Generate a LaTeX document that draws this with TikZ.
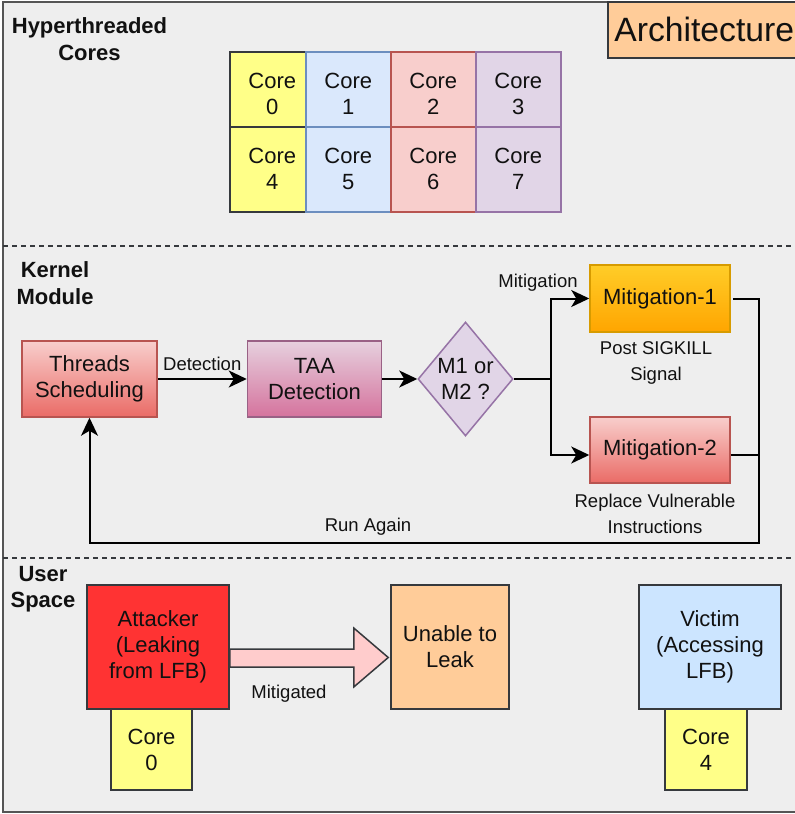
\documentclass[tikz,border=0pt]{standalone}
\usepackage{fontspec}
\setmainfont{Liberation Sans}
\usetikzlibrary{arrows.meta,shapes.geometric,calc}

\definecolor{bg}{HTML}{EEEEEE}
\definecolor{frame}{HTML}{555555}
\definecolor{dk}{HTML}{36393D}
\definecolor{yel}{HTML}{FFFF88}
\definecolor{bluef}{HTML}{DAE8FC}\definecolor{blued}{HTML}{6C8EBF}
\definecolor{redf}{HTML}{F8CECC}\definecolor{redd}{HTML}{B85450}
\definecolor{purf}{HTML}{E1D5E7}\definecolor{purd}{HTML}{9673A6}
\definecolor{redg}{HTML}{EA6B66}
\definecolor{pinkt}{HTML}{E6D0DE}\definecolor{pinkb}{HTML}{D5739D}\definecolor{pinkd}{HTML}{996185}
\definecolor{orat}{HTML}{FFCD28}\definecolor{orab}{HTML}{FFA500}\definecolor{orad}{HTML}{D79B00}
\definecolor{peach}{HTML}{FFCC99}
\definecolor{attred}{HTML}{FF3333}
\definecolor{lpink}{HTML}{FFCCCC}
\definecolor{vicblue}{HTML}{CCE5FF}
\definecolor{ink}{HTML}{111111}

\begin{document}
\begin{tikzpicture}[x=1pt,y=-1pt,
  every node/.style={inner sep=0pt, text=ink},
  tx/.style={font=\fontsize{22}{26}\selectfont, align=center},
  lbl/.style={font=\fontsize{18.5}{26.5}\selectfont, align=center},
  hd/.style={font=\bfseries\fontsize{22}{26.5}\selectfont, align=center},
  cell/.style={tx, draw, line width=1.5pt, minimum width=85pt, minimum height=85pt, anchor=north west},
  ycell/.style={cell, fill=yel, draw=dk},
  bcell/.style={cell, fill=bluef, draw=blued},
  rcell/.style={cell, fill=redf, draw=redd},
  pcell/.style={cell, fill=purf, draw=purd},
  blk/.style={tx, draw, line width=1.5pt},
  redgrad/.style={blk, top color=redf, bottom color=redg, draw=redd},
  conn/.style={line width=2pt, black},
  arr/.style={conn, -{Stealth[length=18pt,width=17pt,inset=5pt]}},
  sep/.style={line width=1.5pt, color=dk, dash pattern=on 5pt off 4pt}
]
\useasboundingbox (0,0) rectangle (795,814);
\clip (0,0) rectangle (795,814);

% outer frame
\draw[frame, line width=2pt, fill=bg] (3,2) rectangle (805,812);

% section separators
\draw[sep] (3,246) -- (795,246);
\draw[sep] (3,558) -- (795,558);

% title tag
\node[draw=dk, fill=peach, line width=1.5pt, minimum width=198pt, minimum height=56pt,
      anchor=north west, font=\fontsize{33.7}{36}\selectfont, text depth=0pt] (arch) at (607,1) {\hspace*{-5pt}Architecture};

% section headings
\node[hd] (hthd) at (89.5,39) {Hyperthreaded\\Cores};
\node[hd] (kmhd) at (55,283) {Kernel\\Module};
\node[hd] (ushd) at (43,589) {User\\Space};

% hyperthreaded cores grid
\node[ycell] (c0) at (229,51) {Core\\0};
\node[bcell] (c1) at (305,51) {Core\\1};
\node[rcell] (c2) at (390,51) {Core\\2};
\node[pcell] (c3) at (475,51) {Core\\3};
\node[ycell] (c4) at (229,126) {Core\\4};
\node[bcell] (c5) at (305,126) {Core\\5};
\node[rcell] (c6) at (390,126) {Core\\6};
\node[pcell] (c7) at (475,126) {Core\\7};

% kernel module flow
\node[redgrad, minimum width=135pt, minimum height=76pt] (ts) at (89.5,379) {Threads\\Scheduling};
\node[blk, top color=pinkt, bottom color=pinkb, draw=pinkd, minimum width=134pt, minimum height=76pt] (taa) at (314.5,379) {TAA\\Detection};
\node[diamond, draw=purd, fill=purf, line width=1.5pt, minimum width=95pt, minimum height=114pt,
      label={[tx]center:M1 or\\M2 ?}] (dm) at (465.5,379) {};
\node[blk, top color=orat, bottom color=orab, draw=orad, minimum width=140pt, minimum height=67pt] (m1) at (660,298.5) {Mitigation-1};
\node[redgrad, minimum width=140pt, minimum height=66pt] (m2) at (660,450) {Mitigation-2};

\coordinate (br) at ($(dm.east)+(37,0)$);
\coordinate (rj) at (759,543);

\draw[arr] (ts.east) -- node[lbl, above=7pt] (detl) {Detection} (taa.west);
\draw[arr] (taa.east) -- (dm.west);
\draw[conn] (dm.east) -- (br);
\draw[arr] (br) |- (m1.west);
\draw[arr] (br) |- ($(m2.west)+(0,5)$);
\draw[conn] (m2.east |- 0,455) -- (rj |- 0,455);
\draw[arr] ($(m1.east)+(2,0)$) -| (rj) -| (ts.south);

\node[lbl] (mitl) at (538,283) {Mitigation};
\node[lbl] (sigl) at (656,363) {Post SIGKILL\\Signal};
\node[lbl] (repl) at (655,514) {Replace Vulnerable\\Instructions};
\node[lbl] (runl) at (368,527) {Run Again};

% user space
\node[blk, fill=yel, draw=dk, minimum width=81pt, minimum height=81pt] (uc0) at (151.5,749.5) {Core\\0};
\node[blk, fill=yel, draw=dk, minimum width=82pt, minimum height=81pt] (uc4) at (706,749.5) {Core\\4};
\node[blk, fill=attred, draw=dk, minimum width=142pt, minimum height=124pt] (att) at (158,647) {Attacker\\(Leaking\\from LFB)};
\node[blk, fill=peach, draw=dk, minimum width=118pt, minimum height=124pt] (unable) at (450,647) {Unable to\\Leak};
\node[blk, fill=vicblue, draw=dk, minimum width=142pt, minimum height=124pt] (vic) at (710,647) {Victim\\(Accessing\\LFB)};

% block arrow from attacker towards the blocked outcome
\draw[dk, line width=1.5pt, fill=lpink, line join=miter]
  ($(att.east)+(0,2)$) -- ++(124,0) -- ++(0,-21) -- ($(unable.west)+(-2,10.5)$)
  -- ($(att.east)+(124,40)$) -- ++(0,-20) -- ($(att.east)+(0,20)$) -- cycle;
\node[lbl] (mitg) at (289,694) {Mitigated};

\end{tikzpicture}
\end{document}
